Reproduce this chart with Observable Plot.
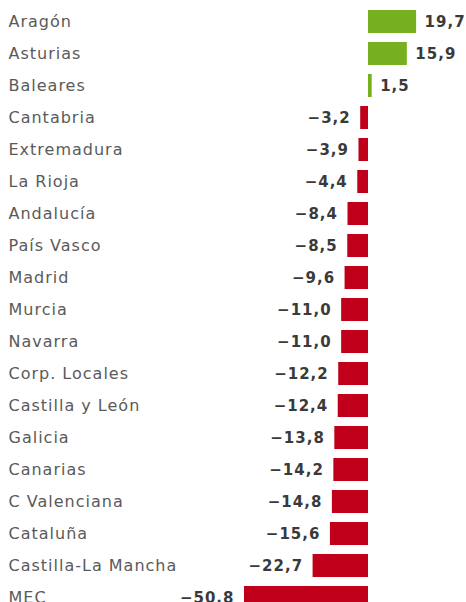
<!DOCTYPE html>
<html>
<head>
<meta charset="utf-8">
<script src="https://cdn.jsdelivr.net/npm/d3@7"></script>
<script src="https://cdn.jsdelivr.net/npm/@observablehq/plot@0.6"></script>
<style>
  html, body { margin: 0; padding: 0; background: #fff; overflow: hidden; }
  #chart svg { display: block; }
  #chart .lbl text { letter-spacing: 1px; }
  #chart .val text { letter-spacing: 1px; }
</style>
</head>
<body>
<div id="chart"></div>
<script>
const regions = ["Aragón", "Asturias", "Baleares", "Cantabria", "Extremadura", "La Rioja", "Andalucía", "País Vasco", "Madrid", "Murcia", "Navarra", "Corp. Locales", "Castilla y León", "Galicia", "Canarias", "C Valenciana", "Cataluña", "Castilla-La Mancha", "MEC"];
const values = [19.7, 15.9, 1.5, -3.2, -3.9, -4.4, -8.4, -8.5, -9.6, -11.0, -11.0, -12.2, -12.4, -13.8, -14.2, -14.8, -15.6, -22.7, -50.8];

const data = regions.map((r, i) => ({ region: r, value: values[i] }));
const fmt = v => (v < 0 ? "\u2212" : "") + Math.abs(v).toFixed(1).replace(".", ",");

const chart = Plot.plot({
  width: 466,
  height: 620,
  marginLeft: 0,
  marginRight: 0,
  marginTop: 0,
  marginBottom: 0,
  style: { fontFamily: "DejaVu Sans", background: "#fff" },
  x: { domain: [-50.8, 19.7], range: [244, 416.1], axis: null },
  y: { domain: regions, range: [5.5, 613.5], paddingInner: 0.28, paddingOuter: 0.14, axis: null },
  marks: [
    Plot.barX(data, {
      x: "value", y: "region",
      fill: d => d.value >= 0 ? "#76b01f" : "#c0001a"
    }),
    Plot.text(data, {
      y: "region", text: "region",
      frameAnchor: "left", textAnchor: "start", dx: 8,
      fontSize: 16, fill: "#5a5a5a", className: "lbl"
    }),
    Plot.text(data.filter(d => d.value >= 0), {
      x: "value", y: "region", text: d => fmt(d.value),
      textAnchor: "start", dx: 8,
      fontSize: 15, fontWeight: "bold", fill: "#3a3a3a", className: "val"
    }),
    Plot.text(data.filter(d => d.value < 0), {
      x: "value", y: "region", text: d => fmt(d.value),
      textAnchor: "end", dx: -10,
      fontSize: 15, fontWeight: "bold", fill: "#3a3a3a", className: "val"
    })
  ]
});

document.getElementById("chart").appendChild(chart);
</script>
</body>
</html>
